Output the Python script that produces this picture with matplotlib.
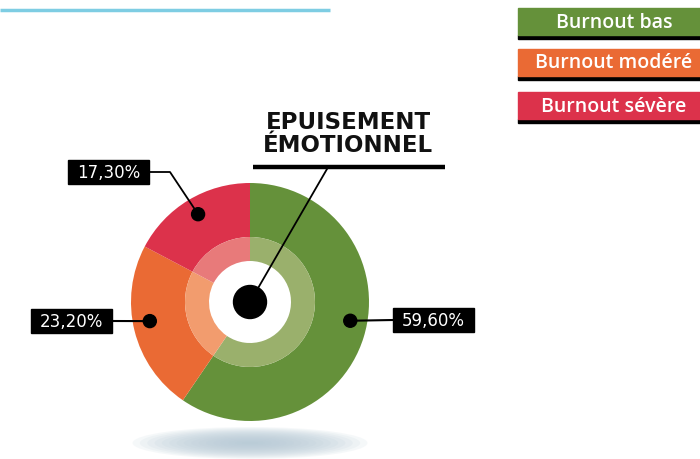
import numpy as np
import matplotlib
matplotlib.use('Agg')
import matplotlib.pyplot as plt
from matplotlib.patches import Rectangle, Ellipse, Circle

# data
categories = ['Burnout bas', 'Burnout modéré', 'Burnout sévère']
values = [59.6, 23.2, 17.3]
title = 'EPUISEMENT\nÉMOTIONNEL'

colors = ['#65913a', '#ea6a34', '#dc324b']
light_colors = ['#9ab06c', '#f29c6e', '#e87a7a']

W, H = 700, 460
def Y(y):
    # pixel y (from top) -> data y
    return H - y

fig = plt.figure(figsize=(7, 4.6), dpi=100)
ax = fig.add_axes([0, 0, 1, 1])

cx, cy = 250, Y(303)

# top blue rule
ax.plot([0, 330], [Y(10.5), Y(10.5)], color='#7ecde3', lw=2.5, solid_capstyle='butt')

# shadow under pie
for i in range(16):
    f = 1 - i / 16
    ax.add_patch(Ellipse((250, Y(444)), 235 * f, 32 * f, color='#b4c8d5', alpha=0.12, lw=0))

# outer ring and inner light ring
ax.pie(values, colors=colors, radius=119, center=(cx, cy), startangle=90,
       counterclock=False, wedgeprops=dict(width=54, lw=0), frame=True)
ax.pie(values, colors=light_colors, radius=65, center=(cx, cy), startangle=90,
       counterclock=False, wedgeprops=dict(width=24, lw=0), frame=True)
ax.set_xlim(0, W)
ax.set_ylim(0, H)
ax.set_aspect('equal')
ax.axis('off')

# centre dot
ax.add_patch(Circle((cx, cy), 16.5, color='black', zorder=5))

# title with underline and leader
ax.text(348, Y(134), title, ha='center', va='center', fontsize=16.5, fontweight='bold',
        linespacing=0.95, color='#111111')
ax.plot([253, 445], [Y(168), Y(168)], color='black', lw=3.2, solid_capstyle='butt')
ax.plot([cx, 327], [cy, Y(170)], color='black', lw=1.3)

# value labels
dot_angles = [-10.6, 190.8, 120.6]
dot_r = 102
box_lefts = [393, 31, 68]
box_tops = [309, 310, 161]
box_w, box_h = 81, 24
for i, v in enumerate(values):
    a = np.radians(dot_angles[i])
    dx, dy = cx + dot_r * np.cos(a), cy + dot_r * np.sin(a)
    ax.add_patch(Circle((dx, dy), 6.5, color='black', zorder=5))
    bx, by = box_lefts[i], Y(box_tops[i] + box_h)
    ax.add_patch(Rectangle((bx, by), box_w, box_h, color='black', zorder=4))
    lab = f'{v:.2f}'.replace('.', ',') + '%'
    ax.text(bx + box_w / 2, by + box_h / 2, lab, ha='center', va='center',
            color='white', fontsize=12, zorder=6)
    ymid = by + box_h / 2
    if bx > cx:
        ax.plot([dx, bx], [dy, ymid], color='black', lw=1.5, zorder=4)
    elif i == 2:
        ax.plot([bx + box_w, 170, dx], [ymid, ymid, dy], color='black', lw=1.3, zorder=4)
    else:
        ax.plot([bx + box_w, dx], [ymid, dy], color='black', lw=1.5, zorder=4)

# legend boxes
leg_tops = [9, 50, 93]
for i, name in enumerate(categories):
    t = leg_tops[i]
    ax.add_patch(Rectangle((518, Y(t + 31)), 190, 4, color='black'))
    ax.add_patch(Rectangle((518, Y(t + 27)), 190, 27, color=colors[i]))
    ax.text(614, Y(t + 13.5), name, ha='center', va='center', color='white',
            fontsize=14, family='Open Sans', fontweight='semibold')

fig.savefig('out.png', dpi=100)
